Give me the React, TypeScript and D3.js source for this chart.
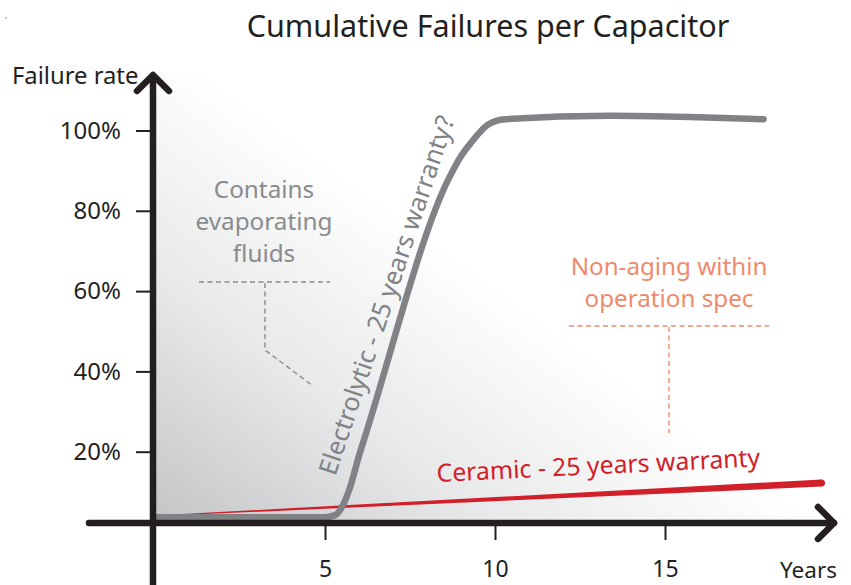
import React, { useEffect, useRef } from 'react';
import * as d3 from 'd3';

// Cumulative failures per capacitor type (years -> % failed)
const electrolyticYears = [0, 5, 5.3, 5.53, 5.74, 6.0, 6.2, 8.65, 9.0, 9.3, 9.8, 10.3, 13.4, 16.0, 17.9];
const electrolyticRate = [3.7, 3.7, 4.2, 6.7, 11.2, 19, 24.4, 88.2, 93.6, 97, 101.5, 102.8, 103.7, 103.3, 102.8];
const ceramicYears = [0, 19.6];
const ceramicRate = [4.0, 12.2];
const xTicks = [5, 10, 15];
const yTicks = [20, 40, 60, 80, 100];

const W = 851;
const H = 585;
const FONT = '"Noto Sans", "Open Sans", sans-serif';
const DARK = '#231f20';
const GREY = '#808285';
const RED = '#d2202a';
const SALMON = '#ef8a6c';

const App = () => {
    const svgRef = useRef<SVGSVGElement | null>(null);

    useEffect(() => {
        const svg = d3.select(svgRef.current);
        svg.selectAll('*').remove();

        const x = d3.scaleLinear().domain([0, 20]).range([155, 835]);
        const y = d3.scaleLinear().domain([0, 100]).range([532, 130.5]);
        const axisX = 153;   // vertical axis line
        const axisY = 523;   // horizontal axis line

        // background gradient
        const defs = svg.append('defs');
        const grad = defs.append('linearGradient')
            .attr('id', 'bg-grad')
            .attr('gradientUnits', 'userSpaceOnUse')
            .attr('x1', 155).attr('y1', 520)
            .attr('x2', 385).attr('y2', 205);
        grad.append('stop').attr('offset', '0%').attr('stop-color', '#c4c5c7');
        grad.append('stop').attr('offset', '50%').attr('stop-color', '#e7e8e9');
        grad.append('stop').attr('offset', '100%').attr('stop-color', '#ffffff');

        svg.append('rect')
            .attr('x', x(0)).attr('y', 72)
            .attr('width', x(20) - x(0) - 10).attr('height', axisY - 72)
            .attr('fill', 'url(#bg-grad)');

        // stray dot in the corner
        svg.append('rect').attr('x', 5).attr('y', 17).attr('width', 1.5).attr('height', 1.5).attr('fill', '#999');

        // title
        svg.append('text')
            .attr('x', 488).attr('y', 37)
            .attr('text-anchor', 'middle')
            .style('font-family', FONT).style('font-size', '30.5px')
            .attr('fill', DARK)
            .text('Cumulative Failures per Capacitor');

        // annotation: evaporating fluids
        const leftNote = svg.append('g').attr('fill', '#8a8b8d')
            .style('font-family', FONT).style('font-size', '24.3px');
        ['Contains', 'evaporating', 'fluids'].forEach((t, i) => {
            leftNote.append('text')
                .attr('x', 264).attr('y', 198 + i * 32)
                .attr('text-anchor', 'middle')
                .text(t);
        });
        svg.append('path')
            .attr('d', 'M199,282H330M265,283V350L313,386')
            .attr('fill', 'none').attr('stroke', '#8a8b8d')
            .attr('stroke-width', 1.4).attr('stroke-dasharray', '5,3.5');

        // annotation: non-aging
        const rightNote = svg.append('g').attr('fill', SALMON)
            .style('font-family', FONT).style('font-size', '24.2px');
        ['Non-aging within', 'operation spec'].forEach((t, i) => {
            rightNote.append('text')
                .attr('x', 669).attr('y', 275 + i * 32)
                .attr('text-anchor', 'middle')
                .text(t);
        });
        svg.append('path')
            .attr('d', 'M569,326H769M669,327V433')
            .attr('fill', 'none').attr('stroke', SALMON)
            .attr('stroke-width', 1.4).attr('stroke-dasharray', '5,3.5');

        // ceramic: tapered red band
        const ceramic = ceramicYears.map((v, i) => [v, ceramicRate[i]] as [number, number]);
        const maxYear = ceramicYears[ceramicYears.length - 1];
        const halfW = (yr: number) => 0.4 + 3.2 * (yr / maxYear);
        const band = d3.area<[number, number]>()
            .x(d => x(d[0]))
            .y0(d => y(d[1]) + halfW(d[0]))
            .y1(d => y(d[1]) - halfW(d[0]));
        svg.append('path').attr('d', band(ceramic)).attr('fill', RED);
        const last = ceramic[ceramic.length - 1];
        svg.append('circle')
            .attr('cx', x(last[0])).attr('cy', y(last[1]))
            .attr('r', halfW(last[0])).attr('fill', RED);

        // electrolytic curve
        const elec = electrolyticYears.map((v, i) => [v, electrolyticRate[i]] as [number, number]);
        const line = d3.line<[number, number]>()
            .x(d => x(d[0]))
            .y(d => y(d[1]))
            .curve(d3.curveMonotoneX);
        svg.append('path')
            .attr('d', line(elec))
            .attr('fill', 'none').attr('stroke', GREY)
            .attr('stroke-width', 6.5).attr('stroke-linecap', 'round');

        // series labels
        svg.append('text')
            .attr('transform', `translate(437,482) rotate(-2.8)`)
            .attr('fill', RED)
            .style('font-family', FONT).style('font-size', '24.8px')
            .text('Ceramic - 25 years warranty');

        svg.append('text')
            .attr('transform', `translate(395,298) rotate(-71.5)`)
            .attr('text-anchor', 'middle')
            .attr('fill', GREY)
            .style('font-family', FONT).style('font-size', '25.5px')
            .text('Electrolytic - 25 years warranty?');

        // axes with ticks
        const yAxis = d3.axisLeft(y)
            .tickValues(yTicks)
            .tickSize(14)
            .tickPadding(15)
            .tickFormat(d => `${d}%`);
        const gy = svg.append('g').attr('transform', `translate(150,0)`).call(yAxis);
        gy.select('.domain').remove();
        gy.selectAll('line').attr('stroke', DARK).attr('stroke-width', 2);
        gy.selectAll('text').attr('fill', DARK)
            .style('font-family', FONT).style('font-size', '24px');

        const xAxis = d3.axisBottom(x)
            .tickValues(xTicks)
            .tickSize(14)
            .tickPadding(21)
            .tickFormat(d => `${d}`);
        const gx = svg.append('g').attr('transform', `translate(0,${axisY + 3})`).call(xAxis);
        gx.select('.domain').remove();
        gx.selectAll('line').attr('stroke', DARK).attr('stroke-width', 2);
        gx.selectAll('text').attr('fill', DARK)
            .style('font-family', FONT).style('font-size', '23px');

        // axis lines with open arrowheads
        const axes = svg.append('g')
            .attr('fill', 'none').attr('stroke', DARK)
            .attr('stroke-width', 6.5)
            .attr('stroke-linecap', 'round').attr('stroke-linejoin', 'round');
        axes.append('path').attr('d', `M${axisX},${H + 5}V76`);
        axes.append('path').attr('d', `M${axisX - 16},91L${axisX},75L${axisX + 16},91`);
        axes.append('path').attr('d', `M89,${axisY}H834`);
        axes.append('path').attr('d', `M818,${axisY - 16}L834,${axisY}L818,${axisY + 16}`);

        // axis titles
        svg.append('text')
            .attr('x', 12).attr('y', 84)
            .attr('fill', DARK)
            .style('font-family', FONT).style('font-size', '23.8px')
            .text('Failure rate');
        svg.append('text')
            .attr('x', 837).attr('y', 578)
            .attr('text-anchor', 'end')
            .attr('fill', DARK)
            .style('font-family', FONT).style('font-size', '22.5px')
            .text('Years');
    }, []);

    return (
        <svg
            ref={svgRef}
            width={W}
            height={H}
            style={{ position: 'absolute', left: 0, top: 0, background: '#fff' }}
        />
    );
};

export default App;
